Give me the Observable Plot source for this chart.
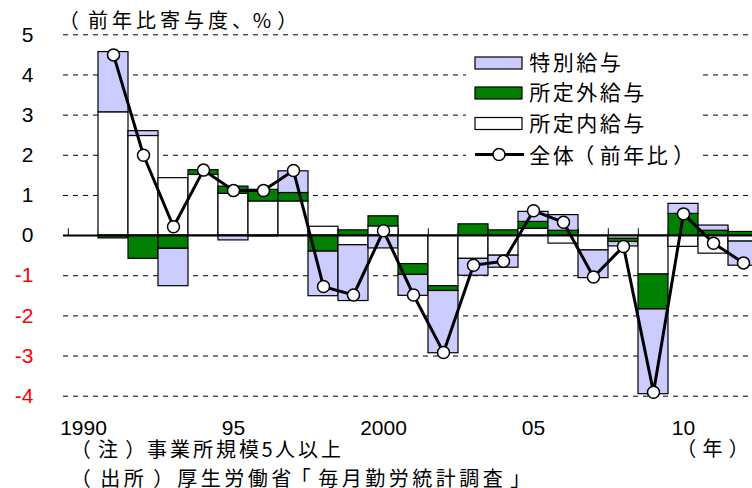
<!DOCTYPE html>
<html><head><meta charset="utf-8">
<script src="https://cdn.jsdelivr.net/npm/d3@7"></script>
<script src="https://cdn.jsdelivr.net/npm/@observablehq/plot@0.6"></script>
<style>
html,body{margin:0;padding:0;background:#fff;overflow:hidden;}
#chart svg{display:block;}
</style></head><body><div id="chart"></div>
<script>
// ---- data ----
const allYears = d3.range(1990, 2013);
const years = d3.range(1991, 2013);
const shoteinai = [3.07, 2.48, 1.43, 1.51, 1.04, 0.85, 0.85, 0.22, -0.24, 0.23, -0.71, -1.26, -0.58, -0.50, 0.17, -0.20, -0.37, -0.08, -0.97, -0.28, -0.45, -0.15];
const shoteigai = [-0.07, -0.58, -0.33, 0.12, 0.18, 0.29, 0.21, -0.40, 0.13, 0.25, -0.27, -0.12, 0.28, 0.13, 0.17, 0.12, 0.00, -0.08, -0.87, 0.54, 0.12, 0.09];
const tokubetsu = [1.50, 0.12, -0.93, 0.00, -0.12, -0.02, 0.54, -1.11, -1.39, -0.32, -0.52, -1.55, -0.42, -0.30, 0.25, 0.39, -0.69, -0.11, -2.11, 0.25, 0.13, -0.60];
const total = [4.50, 2.00, 0.22, 1.63, 1.12, 1.12, 1.62, -1.27, -1.48, 0.12, -1.48, -2.91, -0.74, -0.64, 0.62, 0.33, -1.03, -0.27, -3.90, 0.54, -0.19, -0.68];
const seriesNames = ["所定内給与", "所定外給与", "特別給与"];
const seriesColors = ["#ffffff", "#008000", "#ccccff"];
const legendNames = ["特別給与", "所定外給与", "所定内給与"];
const legendColors = ["#ccccff", "#008000", "#ffffff"];
const lineName = "全体（前年比）";
const yTicks = [5, 4, 3, 2, 1, 0, -1, -2, -3, -4];
const xTickYears = [1990, 1995, 2000, 2005, 2010];
const xTickLabels = ["1990", "95", "2000", "05", "10"];
const titleText = "（前年比寄与度、%）";
const unitText = "（年）";
const note1 = "（注）事業所規模5人以上";
const note2 = "（出所）厚生労働省「毎月勤労統計調査」";

// ---- build ----
const rows = [];
years.forEach((yr, i) => {
  rows.push({year: yr, series: seriesNames[0], value: shoteinai[i]});
  rows.push({year: yr, series: seriesNames[1], value: shoteigai[i]});
  rows.push({year: yr, series: seriesNames[2], value: tokubetsu[i]});
});
const lineData = years.map((yr, i) => ({year: yr, value: total[i]}));

const W = 752, H = 488;
const xRange = [63, 762];
const bw = (xRange[1] - xRange[0]) / allYears.length;
const latin = "'Liberation Sans', Arial, sans-serif";
const cjkFont = "'Noto Sans CJK JP', sans-serif";

const chart = Plot.plot({
  width: W, height: H,
  marginLeft: 63, marginRight: 0, marginTop: 34, marginBottom: 92,
  style: {fontFamily: latin, background: "#fff"},
  x: {type: "band", domain: allYears, range: xRange, padding: 0, axis: null},
  y: {domain: [-4, 5], range: [395.7, 34.3], axis: null},
  color: {domain: seriesNames, range: seriesColors},
  marks: [
    Plot.ruleY(yTicks.filter(d => d !== 0), {stroke: "#000", strokeDasharray: "5,5", strokeWidth: 1}),
    Plot.ruleX(allYears, {x: d => d, y1: 0, y2: 0.17, dx: -bw / 2, stroke: "#000", strokeWidth: 1}),
    Plot.barY(rows, {x: "year", y: "value", fill: "series", stroke: "#000", strokeWidth: 1.2}),
    Plot.ruleY([0], {stroke: "#000", strokeWidth: 2}),
    Plot.line(lineData, {x: "year", y: "value", stroke: "#000", strokeWidth: 3}),
    Plot.dot(lineData, {x: "year", y: "value", r: 6, fill: "#fff", stroke: "#000", strokeWidth: 1.5}),
    Plot.text(yTicks, {frameAnchor: "left", y: d => d, text: d => String(d), textAnchor: "end", lineAnchor: "middle", dx: -30, fontSize: 21, fill: d => d < 0 ? "#ff0000" : "#000"}),
    Plot.text(xTickYears, {x: d => d, frameAnchor: "bottom", text: (d, i) => xTickLabels[i], lineAnchor: "middle", dy: 32, fontSize: 21, fill: "#000"})
  ]
});

const svg = d3.select(chart);

// Japanese text laid out on a character grid (parentheses centred, like the reference font)
const corr = {"（": -0.14, "）": 0.14, "「": -0.2, "」": 0.2};
function cjkText(parent, str, x0, yCenter, o) {
  const t = parent.append("text")
    .attr("y", yCenter + 0.38 * o.size)
    .attr("text-anchor", "middle")
    .attr("font-family", cjkFont)
    .attr("font-size", o.size)
    .attr("fill", "#000")
    .style("text-spacing-trim", "space-all");
  let x = x0;
  for (const ch of str) {
    const w = "（）".includes(ch) ? o.paren : ch.charCodeAt(0) < 128 ? o.ascii : o.cjk;
    t.append("tspan").attr("x", x + w / 2 + (corr[ch] || 0) * o.size).text(ch);
    x += w;
  }
  return t;
}

// legend
const lg = svg.append("g");
lg.append("rect").attr("x", 466).attr("y", 46).attr("width", 237).attr("height", 127).attr("fill", "#fff");
const rowY = [62.5, 92.5, 123.5, 155.5];
const swY = [63, 93, 123.5];
const legStyle = {size: 21, cjk: 23.5, paren: 23.5, ascii: 13};
legendNames.forEach((n, i) => {
  lg.append("rect").attr("x", 475).attr("y", swY[i] - 6).attr("width", 47).attr("height", 12)
    .attr("fill", legendColors[i]).attr("stroke", "#000").attr("stroke-width", 1.2);
  cjkText(lg, n, 528, rowY[i], legStyle);
});
lg.append("line").attr("x1", 475).attr("x2", 524).attr("y1", 154.5).attr("y2", 154.5).attr("stroke", "#000").attr("stroke-width", 3);
lg.append("circle").attr("cx", 499).attr("cy", 154.5).attr("r", 6).attr("fill", "#fff").attr("stroke", "#000").attr("stroke-width", 1.5);
cjkText(lg, lineName, 528, rowY[3], legStyle);

// title, unit, notes
cjkText(svg, titleText, 57, 20.5, {size: 20, cjk: 24, paren: 29, ascii: 16});
cjkText(svg, unitText, 677, 448, {size: 20, cjk: 23, paren: 24, ascii: 13});
cjkText(svg, note1, 70.5, 449, {size: 20, cjk: 23, paren: 26, ascii: 13});
cjkText(svg, note2, 68.5, 478.5, {size: 20, cjk: 23.5, paren: 30, ascii: 13});

document.getElementById("chart").appendChild(chart);
</script></body></html>
